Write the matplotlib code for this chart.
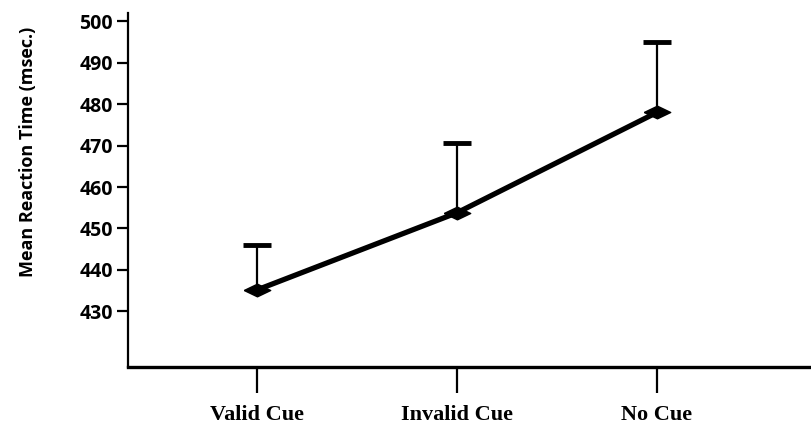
import matplotlib.pyplot as plt
import numpy as np

# data
conditions = ["Valid Cue", "Invalid Cue", "No Cue"]
mean_rt = [435.2, 453.8, 478.0]
upper_err = [10.9, 16.7, 16.9]
y_ticks = [430, 440, 450, 460, 470, 480, 490, 500]

plt.rcParams['font.family'] = ['Liberation Serif', 'DejaVu Serif']

fig = plt.figure(figsize=(8.11, 4.33), dpi=100)
ax = fig.add_axes([0.158, 0.1524, 0.842, 0.818])

x = np.arange(len(conditions))
means = np.array(mean_rt)
tops = means + np.array(upper_err)

# error bars, upper side only
ax.vlines(x, means, tops, color='black', lw=1.6, zorder=2)
ax.plot(x, tops, ls='none', marker='_', ms=20, mew=3.5, color='black', zorder=2)

# the mean line with flat diamonds
diamond = [(-1, 0), (0, 0.48), (1, 0), (0, -0.48), (-1, 0)]
ax.plot(x, means, color='black', lw=3.8, marker=diamond, ms=19,
        mfc='black', mec='black', zorder=3)

ax.set_xlim(-0.645, 2.77)
ax.set_ylim(416.6, 502)
ax.set_xticks(x)
ax.set_xticklabels(conditions, fontsize=16, fontweight='bold')
ax.set_yticks(y_ticks)
ax.set_yticklabels([str(v) for v in y_ticks], fontsize=14, fontweight='bold',
                   family=['Open Sans', 'DejaVu Sans'])

# y label placed by hand, centred where the scan has it
fig.text(28 / 811, 1 - 152 / 433, "Mean Reaction Time (msec.)", rotation=90,
         ha='center', va='center', fontsize=13, fontweight='bold',
         family=['Open Sans', 'DejaVu Sans'])

ax.spines['top'].set_visible(False)
ax.spines['right'].set_visible(False)
ax.spines['left'].set_linewidth(1.6)
ax.spines['bottom'].set_linewidth(2.4)
ax.tick_params(axis='y', direction='out', length=8, width=1.6, pad=3)
ax.tick_params(axis='x', direction='out', length=19, width=1.6, pad=8)

fig.savefig("out.png", dpi=100)
